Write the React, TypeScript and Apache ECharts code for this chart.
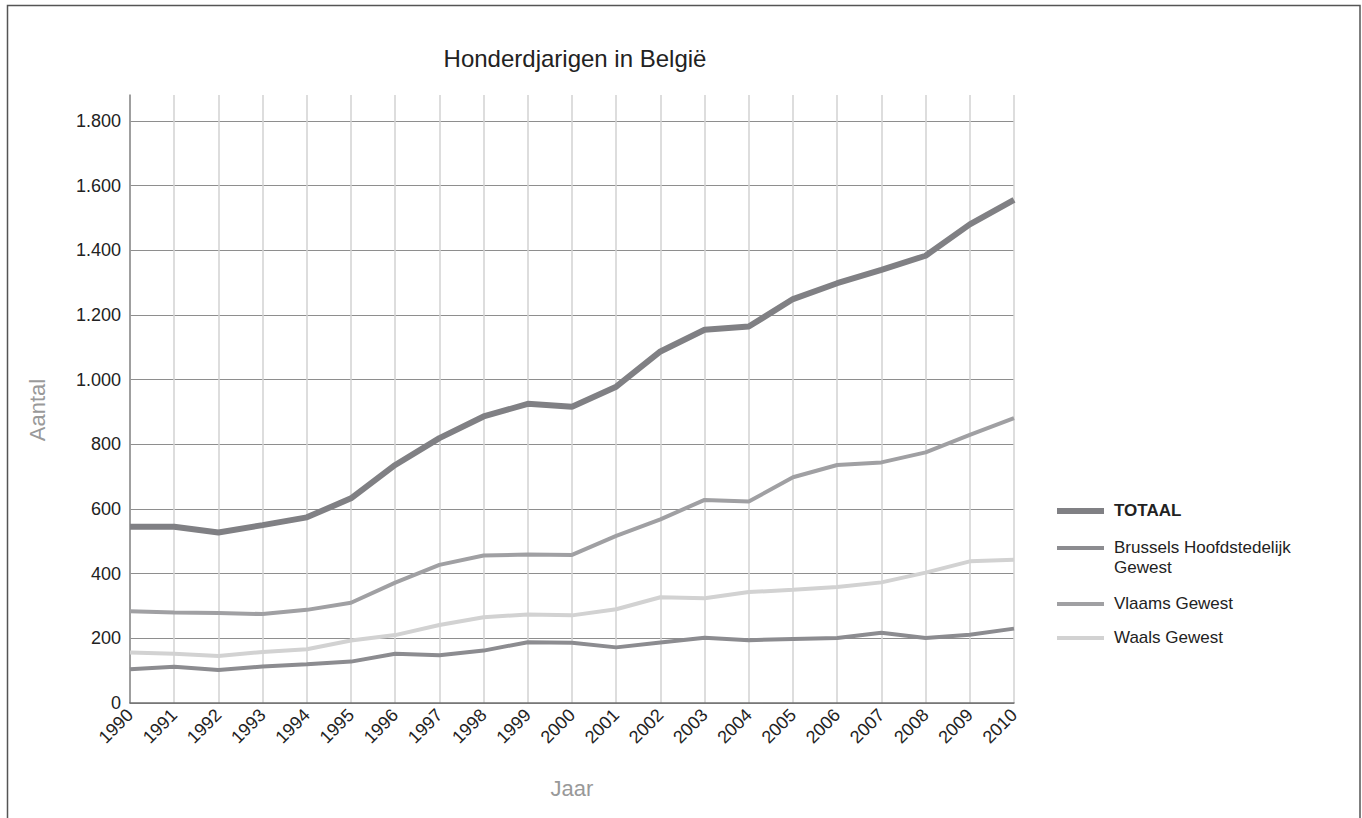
import React, { useEffect, useRef } from "react";
import * as echarts from "echarts";

const years = ["1990","1991","1992","1993","1994","1995","1996","1997","1998","1999","2000","2001","2002","2003","2004","2005","2006","2007","2008","2009","2010"];
const totaal = [545, 545, 527, 550, 574, 633, 736, 819, 886, 925, 916, 978, 1087, 1154, 1164, 1249, 1298, 1339, 1383, 1480, 1556];
const brussel = [104, 112, 102, 113, 120, 128, 152, 148, 162, 188, 186, 172, 187, 202, 194, 198, 201, 217, 201, 211, 230];
const vlaams = [284, 280, 278, 275, 288, 310, 372, 427, 456, 459, 458, 517, 568, 628, 623, 698, 736, 744, 775, 829, 881];
const waals = [156, 152, 145, 158, 166, 193, 210, 241, 265, 274, 271, 290, 327, 324, 343, 350, 359, 373, 403, 438, 443];

const seriesNames = ["TOTAAL", "Brussels Hoofdstedelijk Gewest", "Vlaams Gewest", "Waals Gewest"];
const legendLabels = ["TOTAAL", "Brussels Hoofdstedelijk\nGewest", "Vlaams Gewest", "Waals Gewest"];
const colors = ["#808084", "#8c8c90", "#a0a0a3", "#d2d2d2"];
const widths = [6, 4, 4, 4];

const FONT = "'Liberation Sans', Arial, sans-serif";

const fmt = (v: number) => String(v).replace(/\B(?=(\d{3})+(?!\d))/g, ".");

export default function App() {
  const ref = useRef<HTMLDivElement>(null);
  useEffect(() => {
    if (!ref.current) return;
    const chart = echarts.init(ref.current, undefined, { renderer: "svg" });
    const data = [totaal, brussel, vlaams, waals];
    const legendY = [511, 548, 604, 638];
    const legendGraphics: any[] = [];
    legendLabels.forEach((lab, i) => {
      legendGraphics.push({
        type: "line",
        shape: { x1: 1057, y1: legendY[i], x2: 1104, y2: legendY[i] },
        style: { stroke: colors[i], lineWidth: widths[i] },
      });
      legendGraphics.push({
        type: "text",
        x: 1114,
        y: legendY[i] - 10,
        style: {
          text: lab,
          font: `${i === 0 ? "bold " : ""}17px ${FONT}`,
          fill: "#222",
          lineHeight: 19.5,
          textVerticalAlign: "top",
        },
      });
    });
    chart.setOption({
      animation: false,
      backgroundColor: "#fff",
      title: {
        text: "Honderdjarigen in België",
        left: 570,
        top: 41,
        textAlign: "center",
        textStyle: { fontFamily: FONT, fontSize: 24, fontWeight: "normal", color: "#222" },
      },
      grid: { left: 130, right: 348, top: 95, bottom: 115 },
      xAxis: {
        type: "category",
        data: years,
        boundaryGap: false,
        name: "Jaar",
        nameLocation: "middle",
        nameGap: 74,
        nameTextStyle: { fontFamily: FONT, fontSize: 22, color: "#999" },
        axisLine: { lineStyle: { color: "#707070", width: 1.5 } },
        axisTick: { show: false },
        axisLabel: { rotate: 45, margin: 9, fontFamily: FONT, fontSize: 18, color: "#222", interval: 0 },
        splitLine: { show: true, lineStyle: { color: "#d2d2d2", width: 1.5 } },
      },
      yAxis: {
        type: "value",
        min: 0,
        max: 1880,
        interval: 200,
        name: "Aantal",
        nameLocation: "middle",
        nameRotate: 90,
        nameGap: 82,
        nameTextStyle: { fontFamily: FONT, fontSize: 22, color: "#999", padding: [0, 22, 0, 0] },
        axisLine: { show: true, lineStyle: { color: "#8a8a8a", width: 1.5 } },
        axisTick: { show: false },
        axisLabel: { formatter: fmt, showMaxLabel: false, margin: 9, fontFamily: FONT, fontSize: 18, color: "#222" },
        splitLine: { show: true, showMaxLine: false, lineStyle: { color: "#8e8e8e", width: 1.2 } },
      },
      series: data.map((d, i) => ({
        name: seriesNames[i],
        type: "line",
        data: d,
        symbol: "none",
        lineStyle: { color: colors[i], width: widths[i] },
        z: i === 0 ? 5 : 4 - i,
      })),
      graphic: [
        {
          type: "rect",
          shape: { x: 7.5, y: 5.5, width: 1352.5, height: 900 },
          style: { fill: "none", stroke: "#555", lineWidth: 1.5 },
          silent: true,
        },
        ...legendGraphics,
      ],
    });
    return () => chart.dispose();
  }, []);
  return <div ref={ref} style={{ position: "absolute", left: 0, top: 0, width: 1362, height: 818 }} />;
}
